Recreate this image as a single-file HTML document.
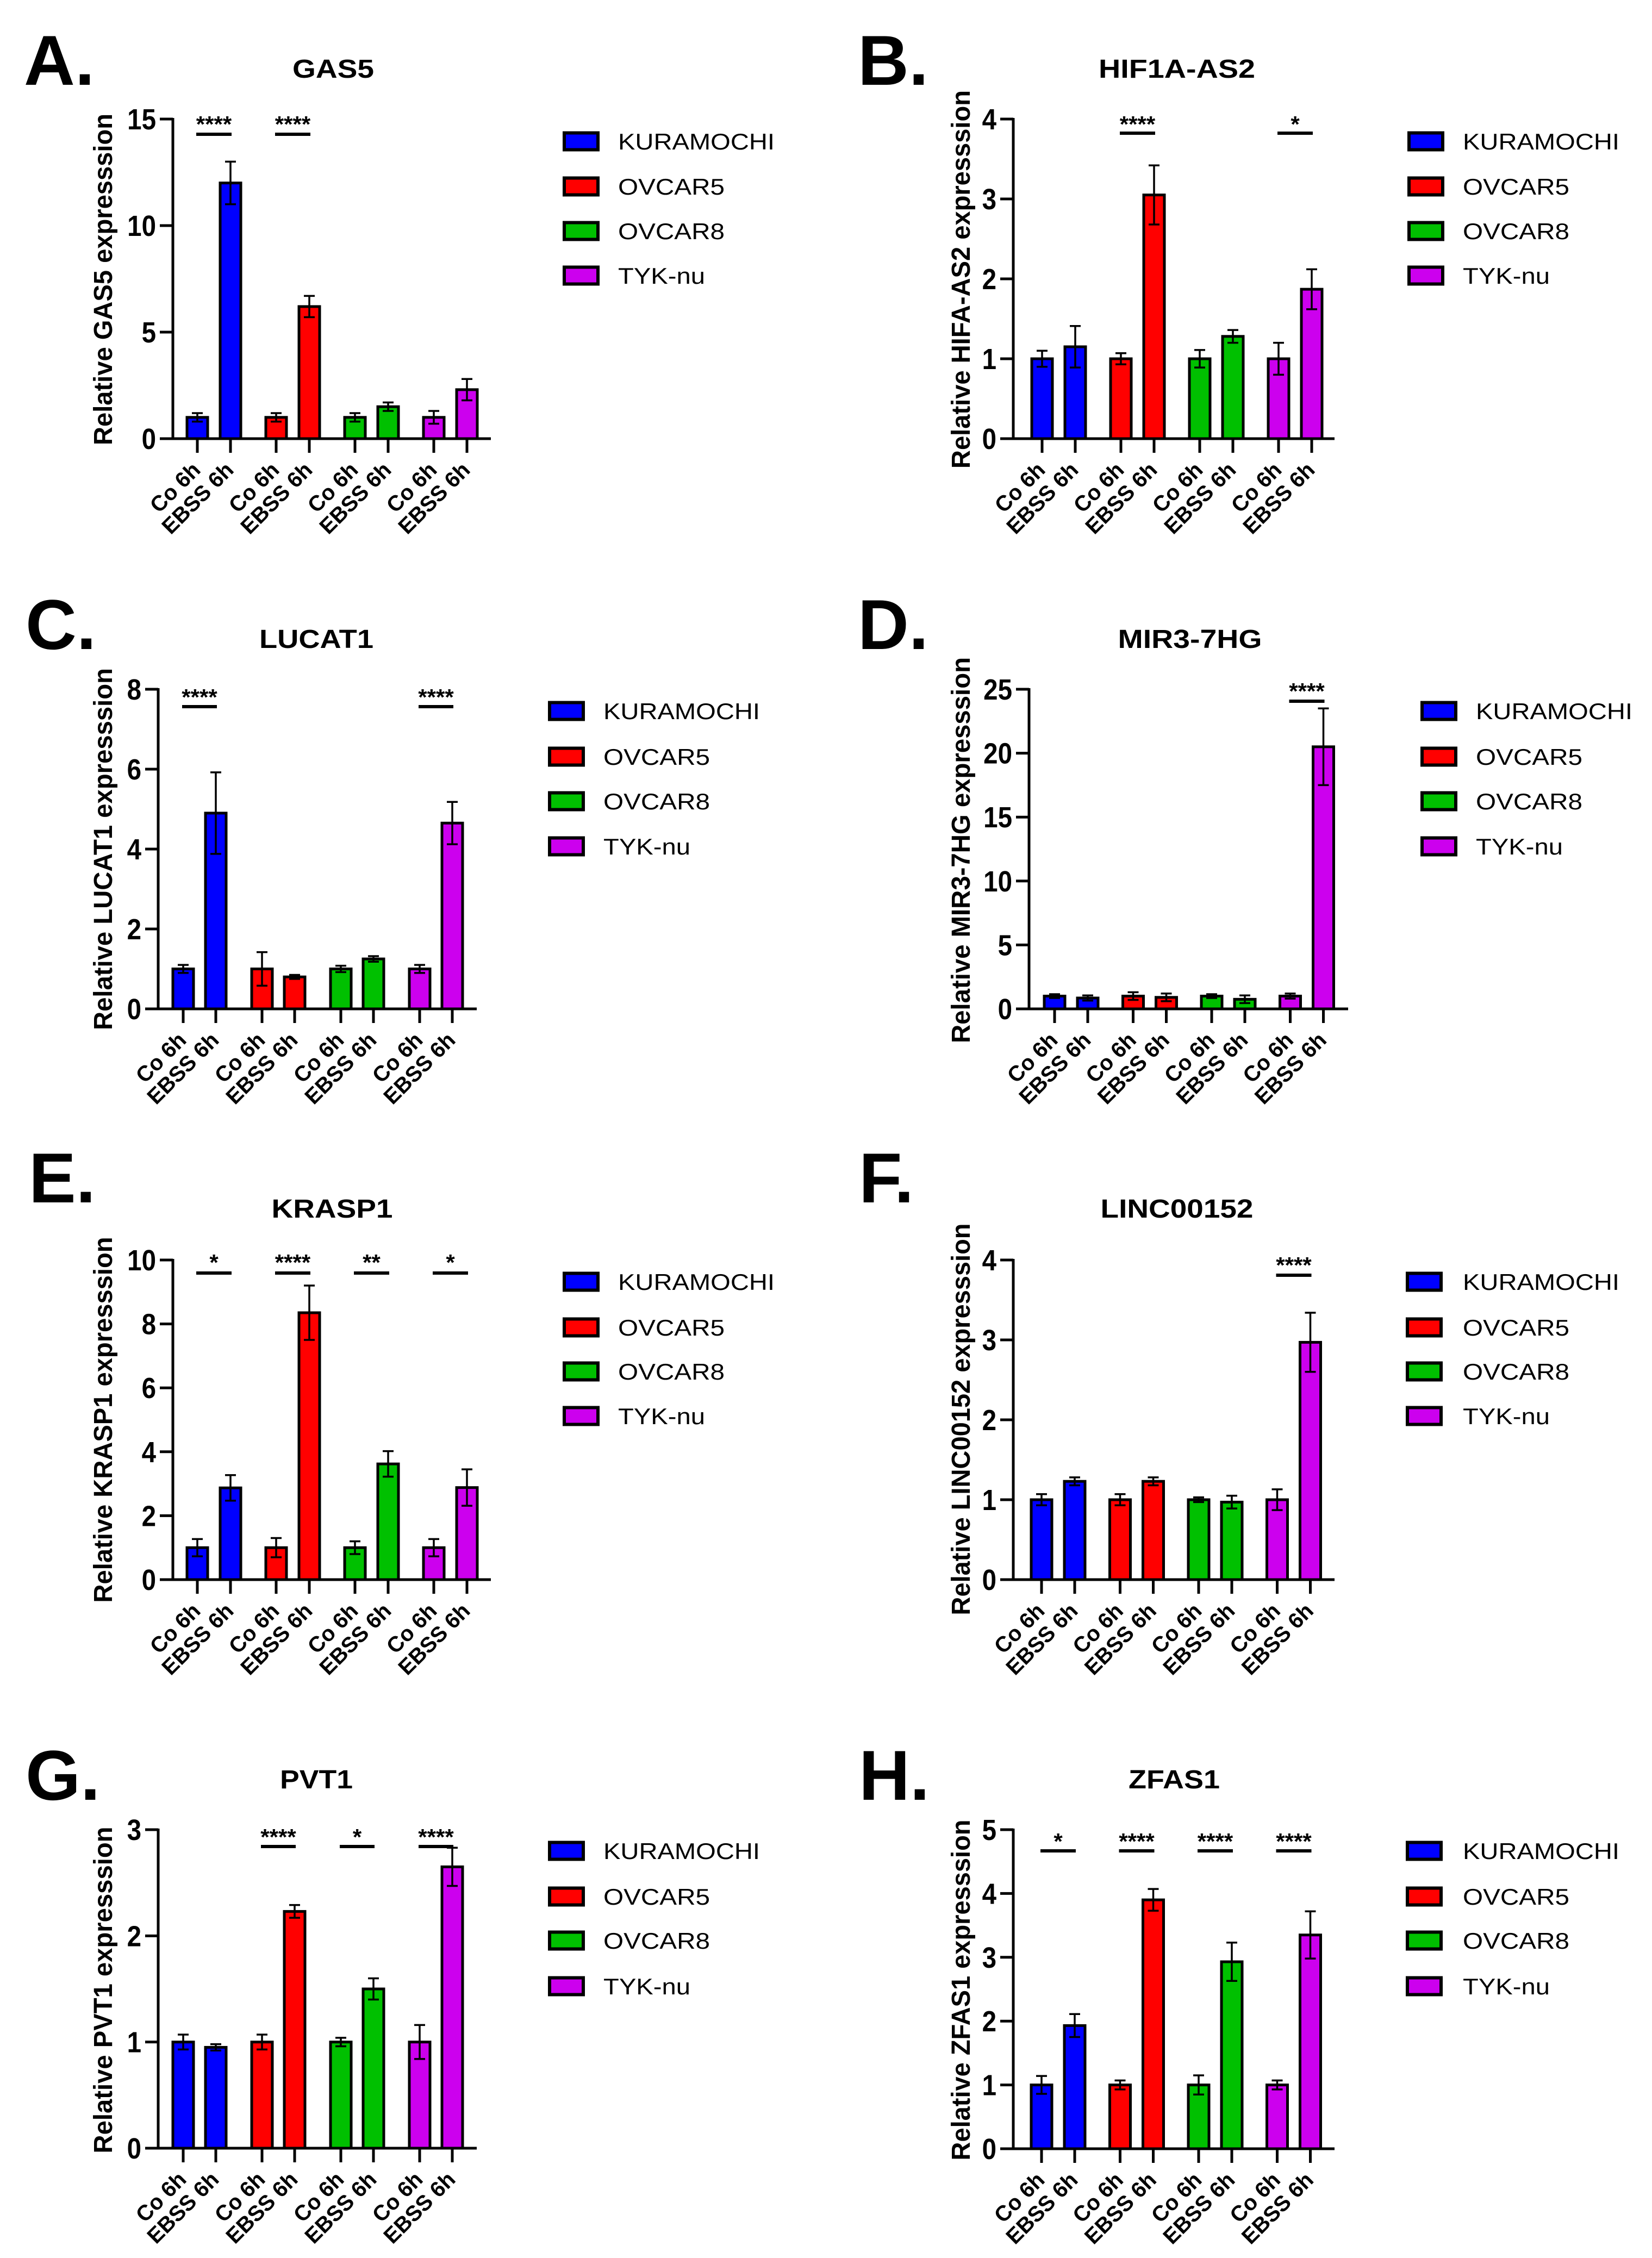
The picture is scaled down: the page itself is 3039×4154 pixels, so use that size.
<!DOCTYPE html>
<html><head><meta charset="utf-8"><style>
html,body{margin:0;padding:0;background:#fff;}
svg{display:block;}
text{font-family:"Liberation Sans",Arial,sans-serif;}
</style></head><body>
<svg id="fig" xmlns="http://www.w3.org/2000/svg" width="3039" height="4154" viewBox="0 0 3039 4154">
<rect width="3039" height="4154" fill="#fff"/>
</svg>
<script>
const categories = ["Co 6h","EBSS 6h","Co 6h","EBSS 6h","Co 6h","EBSS 6h","Co 6h","EBSS 6h"];
const cellLines = ["KURAMOCHI","OVCAR5","OVCAR8","TYK-nu"];
const lineColors = ["#0000ff","#ff0000","#00c000","#cc00ee"];

const gas5Means = [1,12.0,1,6.2,1,1.5,1,2.3];
const gas5Errs = [0.2,1.0,0.2,0.5,0.2,0.2,0.3,0.5];
const gas5Sig = ["****","****","",""];
const gas5Ticks = [0,5,10,15];

const hifMeans = [1,1.15,1,3.05,1,1.28,1,1.87];
const hifErrs = [0.1,0.26,0.07,0.37,0.11,0.08,0.2,0.25];
const hifSig = ["","****","","*"];
const hifTicks = [0,1,2,3,4];

const lucatMeans = [1,4.9,1,0.8,1,1.25,1,4.65];
const lucatErrs = [0.1,1.02,0.42,0.05,0.08,0.07,0.1,0.53];
const lucatSig = ["****","","","****"];
const lucatTicks = [0,2,4,6,8];

const mirMeans = [1,0.85,1,0.9,1,0.75,1,20.5];
const mirErrs = [0.15,0.2,0.3,0.3,0.15,0.3,0.2,3.0];
const mirSig = ["","","","****"];
const mirTicks = [0,5,10,15,20,25];

const krasMeans = [1,2.87,1,8.35,1,3.62,1,2.88];
const krasErrs = [0.27,0.4,0.3,0.85,0.2,0.4,0.27,0.57];
const krasSig = ["*","****","**","*"];
const krasTicks = [0,2,4,6,8,10];

const lincMeans = [1,1.23,1,1.23,1,0.97,1,2.97];
const lincErrs = [0.07,0.05,0.07,0.05,0.03,0.08,0.13,0.37];
const lincSig = ["","","","****"];
const lincTicks = [0,1,2,3,4];

const pvtMeans = [1,0.95,1,2.23,1,1.5,1,2.65];
const pvtErrs = [0.07,0.03,0.07,0.06,0.04,0.1,0.16,0.18];
const pvtSig = ["","****","*","****"];
const pvtTicks = [0,1,2,3];

const zfasMeans = [1,1.93,1,3.9,1,2.93,1,3.35];
const zfasErrs = [0.14,0.18,0.07,0.17,0.15,0.3,0.07,0.37];
const zfasSig = ["*","****","****","****"];
const zfasTicks = [0,1,2,3,4,5];

const panels = [
 {id:"a",letter:"A.",title:"GAS5",titleW:150,ylab:"Relative GAS5 expresssion",means:gas5Means,errs:gas5Errs,sig:gas5Sig,ticks:gas5Ticks,
  ax:318,top:219,y0:807,end:903,b0:363,sp:145,eb:61,tx:613,ty:143,lx:44,ly:156,legX:1035,legTX:1137,legY:[260,343,425,507],ylx:189,yly:514,ylw:610,starY:219,lineY:247},
 {id:"b",letter:"B.",title:"HIF1A-AS2",titleW:288,ylab:"Relative HIFA-AS2 expresssion",means:hifMeans,errs:hifErrs,sig:hifSig,ticks:hifTicks,
  ax:1864,top:219,y0:807,end:2455,b0:1917,sp:145,eb:61,tx:2165,ty:143,lx:1578,ly:156,legX:2589,legTX:2691,legY:[260,343,425,507],ylx:1767,yly:514,ylw:696,starY:219,lineY:245},
 {id:"c",letter:"C.",title:"LUCAT1",titleW:210,ylab:"Relative LUCAT1 expresssion",means:lucatMeans,errs:lucatErrs,sig:lucatSig,ticks:lucatTicks,
  ax:291,top:1268,y0:1856,end:877,b0:337,sp:145,eb:60,tx:582,ty:1192,lx:47,ly:1194,legX:1008,legTX:1110,legY:[1308,1392,1474,1557],ylx:189,yly:1562,ylw:666,starY:1273,lineY:1300},
 {id:"d",letter:"D.",title:"MIR3-7HG",titleW:265,ylab:"Relative MIR3-7HG expresssion",means:mirMeans,errs:mirErrs,sig:mirSig,ticks:mirTicks,
  ax:1893,top:1268,y0:1856,end:2480,b0:1940,sp:144.5,eb:61,tx:2189,ty:1192,lx:1578,ly:1194,legX:2613,legTX:2715,legY:[1308,1392,1474,1557],ylx:1767,yly:1564,ylw:710,starY:1262,lineY:1290},
 {id:"e",letter:"E.",title:"KRASP1",titleW:223,ylab:"Relative KRASP1 expresssion",means:krasMeans,errs:krasErrs,sig:krasSig,ticks:krasTicks,
  ax:318,top:2318,y0:2906,end:903,b0:363,sp:145,eb:61,tx:611,ty:2240,lx:53,ly:2212,legX:1035,legTX:1137,legY:[2358,2442,2523,2605],ylx:189,yly:2612,ylw:673,starY:2313,lineY:2342},
 {id:"f",letter:"F.",title:"LINC00152",titleW:281,ylab:"Relative LINC00152 expresssion",means:lincMeans,errs:lincErrs,sig:lincSig,ticks:lincTicks,
  ax:1864,top:2318,y0:2906,end:2455,b0:1916,sp:144.5,eb:61,tx:2165,ty:2240,lx:1580,ly:2212,legX:2586,legTX:2691,legY:[2358,2442,2523,2605],ylx:1767,yly:2611,ylw:721,starY:2318,lineY:2346},
 {id:"g",letter:"G.",title:"PVT1",titleW:134,ylab:"Relative PVT1 expresssion",means:pvtMeans,errs:pvtErrs,sig:pvtSig,ticks:pvtTicks,
  ax:291,top:3366,y0:3952,end:877,b0:337,sp:145,eb:60,tx:582,ty:3290,lx:47,ly:3311,legX:1008,legTX:1110,legY:[3405,3489,3570,3654],ylx:189,yly:3661,ylw:601,starY:3370,lineY:3397},
 {id:"h",letter:"H.",title:"ZFAS1",titleW:168,ylab:"Relative ZFAS1 expresssion",means:zfasMeans,errs:zfasErrs,sig:zfasSig,ticks:zfasTicks,
  ax:1864,top:3366,y0:3953,end:2455,b0:1916,sp:144.5,eb:61,tx:2160,ty:3290,lx:1580,ly:3311,legX:2586,legTX:2691,legY:[3405,3489,3570,3654],ylx:1767,yly:3661,ylw:627,starY:3378,lineY:3405}
];

const svg = document.getElementById('fig');
const NS = "http://www.w3.org/2000/svg";
function mk(tag, attrs, parent){
  const el = document.createElementNS(NS, tag);
  for (const k in attrs) el.setAttribute(k, attrs[k]);
  (parent||svg).appendChild(el);
  return el;
}

panels.forEach(p => {
  const g = mk('g', {});
  
  
  const maxV = p.ticks[p.ticks.length-1];
  const yS = v => p.y0 - v / maxV * (p.y0 - p.top);
  const xC = i => p.b0 + Math.floor(i/2) * p.sp + (i % 2) * p.eb;

  const L = mk('text', {x:p.lx, y:p.ly, 'font-size':130, 'font-weight':'bold', fill:'#000'}, g);
  L.textContent = p.letter;
  
  

  const T = mk('text', {x:p.tx, y:p.ty, 'font-size':48, 'font-weight':'bold', 'text-anchor':'middle', textLength:p.titleW, lengthAdjust:'spacingAndGlyphs'}, g);
  T.textContent = p.title;
  
  

  const YL = mk('text', {x:0, y:0, 'font-size':48, 'font-weight':'bold', 'text-anchor':'middle', textLength:p.ylw, lengthAdjust:'spacingAndGlyphs', transform:`translate(${p.ylx+17},${p.yly}) rotate(-90)`}, g);
  YL.textContent = p.ylab;
  
  

  p.means.forEach((v, i) => {
    const cx = xC(i);
    const col = lineColors[Math.floor(i/2)];
    const r = mk('rect', {x:cx-19, y:yS(v), width:38, height:p.y0-yS(v), fill:col, stroke:'#000', 'stroke-width':5}, g);
    
    
    const e = p.errs[i];
    const eg = mk('g', {stroke:'#000', 'stroke-width':3.5}, g);
    
    
    mk('line', {x1:cx, x2:cx, y1:yS(v+e), y2:yS(Math.max(0,v-e))}, eg);
    mk('line', {x1:cx-10, x2:cx+10, y1:yS(v+e), y2:yS(v+e)}, eg);
    mk('line', {x1:cx-10, x2:cx+10, y1:yS(Math.max(0,v-e)), y2:yS(Math.max(0,v-e))}, eg);
    mk('line', {x1:cx, x2:cx, y1:p.y0, y2:p.y0+26, stroke:'#000', 'stroke-width':5}, g);
    const XL = mk('text', {x:0, y:0, 'font-size':40, 'font-weight':'bold', 'text-anchor':'end', transform:`translate(${cx+8},${p.y0+60}) rotate(-45)`}, g);
    XL.textContent = categories[i];
    
    
  });

  const ya = mk('line', {x1:p.ax, x2:p.ax, y1:p.top-2, y2:p.y0+2.5, stroke:'#000', 'stroke-width':5}, g);
  
  
  const xa = mk('line', {x1:p.ax-2.5, x2:p.end, y1:p.y0, y2:p.y0, stroke:'#000', 'stroke-width':5}, g);
  
  
  p.ticks.forEach(t => {
    mk('line', {x1:p.ax-24, x2:p.ax, y1:yS(t), y2:yS(t), stroke:'#000', 'stroke-width':5}, g);
    const tl = mk('text', {x:0, y:0, 'font-size':54, 'font-weight':'bold', 'text-anchor':'end', transform:`translate(${p.ax-31},${yS(t)+19}) scale(0.88,1)`}, g);
    tl.textContent = t;
    
    
  });

  p.sig.forEach((s, k) => {
    if (!s) return;
    const c1 = xC(2*k), c2 = xC(2*k+1);
    const ln = mk('line', {x1:c1-2, x2:c2+2, y1:p.lineY, y2:p.lineY, stroke:'#000', 'stroke-width':6}, g);
    
    
    const st = mk('text', {x:(c1+c2)/2, y:p.starY+24, 'font-size':42, 'font-weight':'bold', 'text-anchor':'middle'}, g);
    st.textContent = s;
    
    
  });

  const legW = [288,196,196,160];
  cellLines.forEach((n, k) => {
    const lg = mk('g', {}, g);
    
    
    mk('rect', {x:p.legX+3, y:p.legY[k]-15.5, width:62, height:31, fill:lineColors[k], stroke:'#000', 'stroke-width':6}, lg);
    const lt = mk('text', {x:p.legTX, y:p.legY[k]+15, 'font-size':42, textLength:legW[k], lengthAdjust:'spacingAndGlyphs'}, lg);
    lt.textContent = n;
  });
});
</script>
</body></html>
